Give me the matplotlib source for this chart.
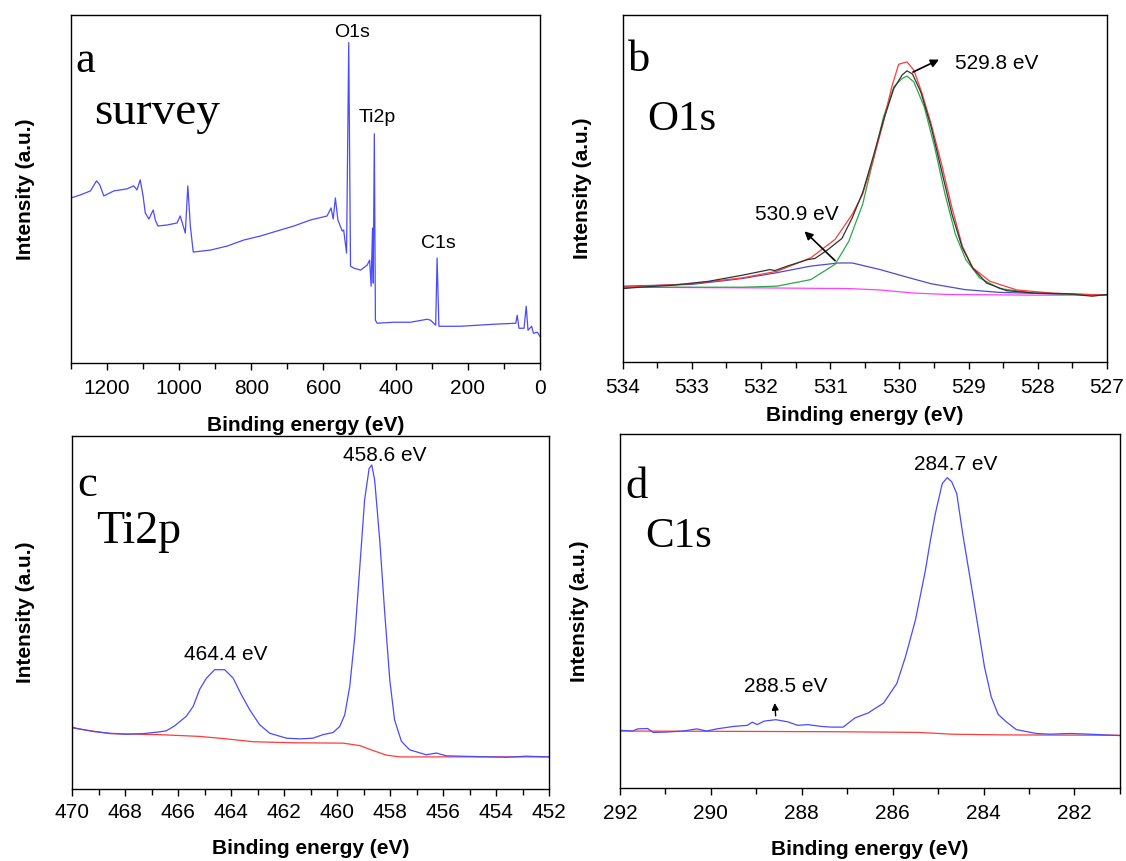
import matplotlib
matplotlib.use("Agg")
import matplotlib.pyplot as plt
from matplotlib.ticker import MultipleLocator

plt.rcParams["font.family"] = ["Liberation Sans", "DejaVu Sans"]

# ---- data (intensity in arbitrary units) ----
# a: survey
survey_be = [1300, 1274, 1246, 1229, 1220, 1209, 1181, 1145, 1126, 1117, 1108, 1100,
             1094, 1084, 1072, 1066, 1059, 1034, 1006, 997, 983, 976, 969, 961,
             913, 867, 821, 775, 729, 682, 636, 590, 579, 573, 567, 560, 548, 544,
             536, 530, 525, 516, 497, 479, 472, 468, 464, 462, 459, 456, 451, 405,
             359, 312, 303, 289, 285, 280, 220, 128, 67, 63, 58, 44, 38, 33, 23,
             18, 7, 0]
survey_int = [165, 168, 172, 182, 178, 167, 172, 174, 177, 173, 183, 167,
              150, 144, 153, 143, 137, 138, 140, 147, 130, 177, 137, 111,
              113, 117, 123, 127, 132, 137, 143, 147, 155, 144, 165, 143, 132, 133,
              110, 320, 97, 95, 93, 98, 103, 77, 135, 80, 229, 43, 40, 41,
              41, 44, 43, 38, 105, 37, 37, 39, 40, 48, 35, 35, 57, 33, 37,
              30, 31, 27]

# b: O1s
o1s_raw_be = [534, 533.75, 533.26, 532.76, 532.26, 531.87, 531.8, 531.62, 531.32, 531.22,
              531.03, 530.83, 530.68, 530.53, 530.38, 530.23, 530.08, 529.96, 529.89,
              529.81, 529.69, 529.54, 529.39, 529.24, 529.09, 528.94, 528.74, 528.45,
              528.05, 527.56, 527.21, 527]
o1s_raw = [21.1, 21.5, 22.1, 23.2, 25.0, 26.6, 26.3, 27.6, 29.5, 29.8,
           32.4, 35.6, 41.6, 48.9, 59.1, 69.7, 78.9, 82.8, 84.0,
           83.1, 77.9, 67.8, 55.2, 42.6, 32.9, 27.1, 22.7, 20.5,
           19.8, 19.6, 18.9, 19.4]
o1s_env_be = [534, 533.01, 532.27, 531.77, 531.28, 530.93, 530.68, 530.53, 530.38, 530.23,
              530.11, 530.01, 529.89, 529.79, 529.67, 529.54, 529.39, 529.24, 529.09,
              528.94, 528.69, 528.30, 527.80, 527]
o1s_env = [21.5, 22.5, 24.2, 26.1, 30.0, 35.3, 42.6, 48.4, 58.1, 69.2,
           79.4, 85.9, 86.6, 84.2, 77.4, 68.7, 57.1, 44.5, 33.4,
           27.1, 23.2, 20.7, 19.8, 19.2]
o1s_main_be = [534, 533.01, 532.27, 531.77, 531.28, 530.93, 530.73, 530.53, 530.38, 530.23,
               530.08, 529.96, 529.89, 529.79, 529.64, 529.49, 529.34, 529.19, 529.04,
               528.84, 528.55, 528.05, 527]
o1s_main = [21.5, 21.5, 21.5, 21.8, 23.7, 28.1, 34.8, 45.5, 58.1, 70.7,
            79.4, 81.8, 82.5, 80.8, 73.6, 62.0, 48.4, 36.8, 29.5,
            24.2, 21.1, 19.8, 19.2]
o1s_sub_be = [534, 533.01, 532.27, 531.77, 531.28, 530.88, 530.68, 530.28, 529.89,
              529.54, 529.05, 528.55, 527.80, 527]
o1s_sub = [21.8, 22.3, 24.0, 25.7, 27.6, 28.5, 28.5, 26.6, 24.4,
           22.5, 20.8, 20.0, 19.6, 19.2]
o1s_bg_be = [534, 532.02, 530.73, 530.28, 529.79, 529.30, 528.05, 527]
o1s_bg = [21.5, 21.3, 21.1, 20.7, 19.8, 19.4, 19.2, 19.2]

# c: Ti2p
ti_be = [470, 469.71, 469.21, 468.58, 467.95, 467.32, 466.69, 466.44, 466.13, 465.69,
         465.43, 465.18, 464.93, 464.62, 464.24, 463.92, 463.61, 463.30, 462.92, 462.54,
         461.91, 461.41, 460.91, 460.53, 460.15, 459.90, 459.71, 459.52, 459.33, 459.14,
         458.96, 458.79, 458.69, 458.58, 458.39, 458.20, 458.01, 457.83, 457.57, 457.26,
         456.63, 456.25, 455.88, 454.74, 453.61, 452.86, 452]
ti_int = [17.5, 17.0, 16.3, 15.8, 15.5, 15.7, 16.2, 16.5, 17.9, 20.6,
          23.4, 28.3, 31.4, 33.8, 33.8, 31.4, 26.7, 22.5, 18.2, 15.8,
          14.4, 14.2, 14.4, 15.4, 16.0, 17.7, 21.0, 29.1, 43.2, 63.0,
          81.9, 90.8, 91.8, 87.5, 70.6, 49.8, 30.9, 19.6, 13.5, 11.1,
          9.7, 10.2, 9.4, 9.2, 9.0, 9.3, 9.1]
ti_bg_be = [470, 468.58, 466.69, 465.18, 464.17, 463.17, 461.66, 459.77, 459.14, 458.64,
            458.14, 457.63, 452]
ti_bg = [17.3, 15.7, 15.4, 14.9, 14.2, 13.4, 13.1, 13.0, 12.3, 10.9,
         9.6, 9.1, 9.1]

# d: C1s
c1s_be = [292, 291.72, 291.61, 291.39, 291.27, 290.98, 290.61, 290.31, 290.09, 289.87,
          289.50, 289.20, 289.09, 288.98, 288.83, 288.57, 288.31, 288.09, 287.87, 287.57,
          287.35, 287.09, 286.83, 286.54, 286.20, 285.91, 285.72, 285.50, 285.28, 285.17,
          285.06, 284.91, 284.80, 284.70, 284.59, 284.46, 284.24, 283.98, 283.83, 283.68,
          283.50, 283.28, 282.84, 282.54, 282.10, 281.65, 281]
c1s_int = [16.3, 16.1, 16.7, 16.8, 15.7, 15.8, 16.1, 16.7, 16.1, 16.7,
           17.4, 17.7, 18.6, 17.9, 18.9, 19.3, 18.7, 17.7, 17.9, 17.4,
           17.2, 17.2, 19.8, 21.2, 24.0, 29.5, 37.0, 47.4, 61.5, 70.0,
           77.6, 86.0, 87.7, 86.5, 83.2, 71.9, 54.9, 34.2, 25.7, 20.8,
           18.7, 16.5, 15.4, 15.2, 15.4, 15.2, 14.8]
c1s_bg_be = [292, 289.50, 287.28, 285.43, 284.69, 283.58, 281]
c1s_bg = [16.1, 16.0, 15.9, 15.7, 15.2, 15.0, 14.9]

BLUE = "#4a4aff"
TICK_FS = 15
LABEL_FS = 15
NOTE_FS = 15
SERIF = ["Liberation Serif", "DejaVu Serif"]

fig = plt.figure(figsize=(11.26, 8.61), dpi=100)
ax_a = fig.add_axes([0.063, 0.578, 0.4165, 0.404])
ax_b = fig.add_axes([0.553, 0.580, 0.430, 0.402])
ax_c = fig.add_axes([0.064, 0.0836, 0.4236, 0.410])
ax_d = fig.add_axes([0.5506, 0.0848, 0.444, 0.411])


def style(ax, xlim, major, minor, ylim, tpad=6.5, xpad=12.5, ypad=22):
    ax.set_xlim(*xlim)
    ax.set_ylim(*ylim)
    ax.xaxis.set_major_locator(MultipleLocator(major))
    ax.xaxis.set_minor_locator(MultipleLocator(minor))
    ax.set_yticks([])
    ax.tick_params(axis="x", which="major", direction="out", length=5, width=1,
                   labelsize=TICK_FS, pad=tpad, top=False)
    ax.tick_params(axis="x", which="minor", direction="out", length=4, width=1, top=False)
    ax.set_xlabel("Binding energy (eV)", fontsize=LABEL_FS, fontweight="bold", labelpad=xpad)
    ax.set_ylabel("Intensity (a.u.)", fontsize=LABEL_FS, fontweight="bold", labelpad=ypad)
    for sp in ax.spines.values():
        sp.set_linewidth(1)


### a: survey
ax = ax_a
ax.plot(survey_be, survey_int, color=BLUE, lw=0.9)
style(ax, (1300, 0), 200, 100, (0, 347), tpad=6.5, xpad=12.5, ypad=26)
ax.text(520, 330, "O1s", fontsize=14, ha="center", va="center")
ax.text(451, 245, "Ti2p", fontsize=14, ha="center", va="center")
ax.text(282, 120, "C1s", fontsize=14, ha="center", va="center")
ax.text(0.01, 0.87, "a", transform=ax.transAxes, fontsize=32, family=SERIF, va="center")
ax.text(0.05, 0.72, "survey", transform=ax.transAxes, fontsize=34, family=SERIF, va="center")

### b: O1s
ax = ax_b
ax.plot(o1s_bg_be, o1s_bg, color="#ff40ff", lw=0.9)
ax.plot(o1s_sub_be, o1s_sub, color="#4b4bc8", lw=0.9)
ax.plot(o1s_main_be, o1s_main, color="#2aa84a", lw=0.9)
ax.plot(o1s_env_be, o1s_env, color="#ff3b3b", lw=0.9)
ax.plot(o1s_raw_be, o1s_raw, color="#333333", lw=0.9)
style(ax, (534, 527), 1, 0.5, (0, 100), tpad=7, xpad=6, ypad=22)
ax.annotate("", xy=(529.39, 87.6), xytext=(529.84, 83.3),
            arrowprops=dict(arrowstyle="-|>", color="black", lw=1.2, mutation_scale=12))
ax.text(529.2, 86.2, "529.8 eV", fontsize=NOTE_FS, ha="left", va="center")
ax.annotate("", xy=(531.40, 38.2), xytext=(530.90, 28.6),
            arrowprops=dict(arrowstyle="-|>", color="black", lw=1.2, mutation_scale=12))
ax.text(532.09, 42.6, "530.9 eV", fontsize=NOTE_FS, ha="left", va="center")
ax.text(0.01, 0.87, "b", transform=ax.transAxes, fontsize=32, family=SERIF, va="center")
ax.text(0.05, 0.70, "O1s", transform=ax.transAxes, fontsize=31, family=SERIF, va="center")

### c: Ti2p
ax = ax_c
ax.plot(ti_bg_be, ti_bg, color="#ff3b3b", lw=0.9)
ax.plot(ti_be, ti_int, color=BLUE, lw=0.9)
style(ax, (470, 452), 2, 1, (0, 100), tpad=5, xpad=12.5, ypad=27)
ax.text(458.20, 94.6, "458.6 eV", fontsize=NOTE_FS, ha="center", va="center")
ax.text(464.21, 38.0, "464.4 eV", fontsize=NOTE_FS, ha="center", va="center")
ax.text(0.01, 0.86, "c", transform=ax.transAxes, fontsize=32, family=SERIF, va="center")
ax.text(0.05, 0.73, "Ti2p", transform=ax.transAxes, fontsize=33, family=SERIF, va="center")

### d: C1s
ax = ax_d
ax.plot(c1s_bg_be, c1s_bg, color="#ff3b3b", lw=0.9)
ax.plot(c1s_be, c1s_int, color=BLUE, lw=0.9)
style(ax, (292, 281), 2, 1, (0, 100), tpad=6.5, xpad=12.5, ypad=22)
ax.annotate("", xy=(288.6, 24.8), xytext=(288.57, 19.6),
            arrowprops=dict(arrowstyle="-|>", color="black", lw=1.0, mutation_scale=10))
ax.text(288.35, 28.6, "288.5 eV", fontsize=NOTE_FS, ha="center", va="center")
ax.text(284.61, 91.5, "284.7 eV", fontsize=NOTE_FS, ha="center", va="center")
ax.text(0.01, 0.85, "d", transform=ax.transAxes, fontsize=32, family=SERIF, va="center")
ax.text(0.05, 0.71, "C1s", transform=ax.transAxes, fontsize=31, family=SERIF, va="center")

fig.savefig("out.png", dpi=100)
